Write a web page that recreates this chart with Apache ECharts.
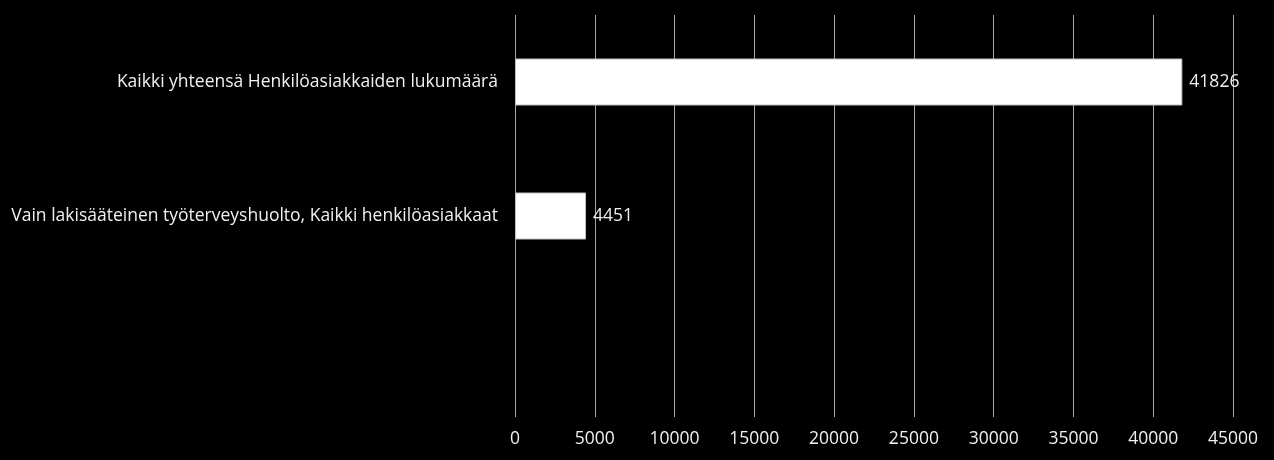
<!DOCTYPE html>
<html>
<head>
<meta charset="utf-8">
<script src="https://cdn.jsdelivr.net/npm/echarts@6/dist/echarts.min.js"></script>
<style>
  html, body { margin: 0; padding: 0; background: #000; }
  #chart { width: 1274px; height: 460px; }
</style>
</head>
<body>
<div id="chart"></div>
<script>
var categories = [
    'Kaikki yhteensä Henkilöasiakkaiden lukumäärä',
    'Vain lakisääteinen työterveyshuolto, Kaikki henkilöasiakkaat',
    ''
];
var values = [41826, 4451, null];
var axisMin = 0;
var axisMax = 45000;
var axisStep = 5000;

var myChart = echarts.init(document.getElementById('chart'));

var option = {
    backgroundColor: '#000',
    animation: false,
    grid: {
        left: 515,
        right: 41,
        top: 15,
        bottom: 43
    },
    xAxis: {
        type: 'value',
        min: axisMin,
        max: axisMax,
        interval: axisStep,
        axisLine: { show: false },
        axisTick: { show: false },
        splitLine: {
            show: true,
            lineStyle: { color: '#a6a6a6', width: 1 }
        },
        axisLabel: {
            color: '#f0f0f0',
            fontFamily: 'Open Sans',
            fontSize: 17.5,
            margin: 13,
            formatter: function (v) { return String(v); }
        }
    },
    yAxis: {
        type: 'category',
        inverse: true,
        data: categories,
        axisLine: { show: false },
        axisTick: { show: false },
        splitLine: { show: false },
        axisLabel: {
            color: '#f0f0f0',
            fontFamily: 'Open Sans',
            fontSize: 17.5,
            margin: 17
        }
    },
    series: [
        {
            type: 'bar',
            data: values,
            barWidth: 47,
            itemStyle: {
                color: '#ffffff',
                borderColor: '#bfbfbf',
                borderWidth: 1
            },
            label: {
                show: true,
                position: 'right',
                distance: 7,
                color: '#f0f0f0',
                fontFamily: 'Open Sans',
                fontSize: 17.5
            }
        }
    ]
};

myChart.setOption(option);
</script>
</body>
</html>
